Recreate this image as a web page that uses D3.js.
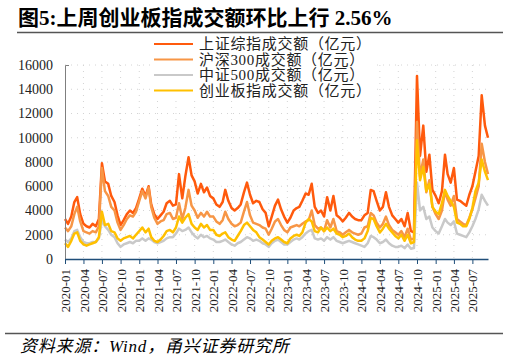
<!DOCTYPE html>
<html>
<head>
<meta charset="utf-8">
<script src="https://cdn.jsdelivr.net/npm/d3@7"></script>
<style>
  body { margin: 0; background: #fff; }
  svg { display: block; font-family: "Liberation Serif", "Noto Sans CJK SC", serif; }
</style>
</head>
<body>
<div id="chart"></div>
<script>
// Two readings per month (1st and 16th), starting 2020-01
const startMonth = "2020-01";

const seriesNames = ["上证综指成交额（亿元）", "沪深300成交额（亿元）", "中证500成交额（亿元）", "创业板指成交额（亿元）"];

const sse = [
  3300, 2900, 3500, 4700, 5100, 3700, 2900, 2700, 2600, 2900, 2700, 3300, 7900, 6400, 6200, 5200, 4700, 3600, 2800, 3200, 3700, 4000, 3800, 4200,
  5000, 5800, 5200, 6000, 4500, 3700, 3300, 3600, 3900, 4600, 4800, 4400, 4500, 7000, 5000, 6800, 8400, 6900, 6400, 5400, 6200, 5500, 5900, 5200,
  5000, 4500, 4300, 4700, 5700, 4800, 4200, 4000, 4200, 4500, 5500, 6300, 5300, 4600, 4800, 4700, 4100, 3800, 2700, 3500, 4400, 4900, 4100, 3500,
  3000, 3400, 4000, 4200, 4300, 4800, 5400, 5300, 6200, 4300, 3800, 4000, 3500, 5100, 4000, 5200, 3600, 3400, 3100, 3400, 3800, 3500, 3300, 3200,
  3200, 3600, 3800, 5700, 5600, 4800, 4000, 4300, 5500, 4300, 3600, 3300, 3000, 3300, 2700, 3800, 2300, 2200, 15100, 8500, 11000, 7200, 8600, 5700,
  5200, 4600, 5600, 8600, 7000, 6300, 7500, 4900, 4800, 4600, 4400, 5300, 6000, 7200, 8500, 13500, 11000, 10000
];

const csi300 = [
  2600, 2300, 2700, 3700, 4300, 3100, 2300, 2200, 2100, 2300, 2200, 2700, 7500, 5600, 5200, 4300, 4000, 3000, 2400, 2800, 3300, 3600, 3500, 3900,
  4800, 5600, 5000, 5900, 4300, 3400, 2900, 3100, 3200, 3700, 3800, 3300, 3400, 4600, 3300, 4200, 5700, 4400, 4000, 3400, 3800, 3500, 3900, 3500,
  3500, 3100, 2900, 3200, 3900, 3300, 2900, 2700, 2800, 3000, 3900, 4700, 3600, 3000, 2900, 2800, 2600, 2500, 2000, 2500, 3100, 3300, 2800, 2400,
  2200, 2600, 2700, 2800, 2700, 2900, 3100, 3200, 4000, 2800, 2500, 2600, 2300, 3200, 2600, 3300, 2300, 2200, 2000, 2200, 2400, 2200, 2100, 2000,
  2100, 2600, 2700, 3800, 3600, 3000, 2600, 2900, 3500, 2800, 2400, 2200, 2000, 2300, 1800, 2500, 1600, 1700, 11300, 6800, 8200, 5500, 6500, 4300,
  3700, 3300, 4000, 5600, 4900, 4400, 5200, 3300, 3100, 2900, 2800, 3400, 4100, 5000, 6000, 9500, 8000, 7000
];

const csi500 = [
  1600, 1400, 1700, 2300, 2400, 1800, 1400, 1300, 1300, 1400, 1400, 1700, 3200, 2700, 2400, 2000, 1800, 1300, 1000, 1200, 1300, 1400, 1300, 1500,
  1500, 1700, 1500, 1700, 1600, 1400, 1300, 1400, 1500, 1700, 1800, 1800, 2100, 2500, 2300, 2400, 2600, 2200, 1900, 1700, 2000, 1800, 1900, 1700,
  1600, 1400, 1400, 1500, 1600, 1400, 1200, 1100, 1300, 1400, 1600, 1800, 1700, 1500, 1600, 1500, 1300, 1200, 1000, 1300, 1500, 1600, 1400, 1200,
  1200, 1400, 1600, 1700, 1600, 1800, 2100, 2300, 2400, 1700, 1600, 1700, 1500, 1800, 1600, 1800, 1500, 1400, 1300, 1400, 1500, 1400, 1300, 1200,
  1100, 1000, 1300, 1900, 1800, 1600, 1300, 1400, 1600, 1300, 1100, 1000, 1000, 1100, 900, 1200, 850, 900, 6300, 4000, 4300, 3300, 3500, 2600,
  2300, 2100, 2700, 3300, 3000, 2800, 3100, 2100, 2000, 1900, 1800, 2200, 2700, 3300, 4100, 5300, 4800, 4400
];

const chinext = [
  1300, 1000, 1500, 2100, 2200, 1500, 1200, 1100, 1200, 1300, 1400, 1800, 3900, 2800, 2900, 2300, 2200, 1700, 1500, 1700, 1800, 1900, 1700, 2000,
  2300, 2600, 2200, 2500, 1800, 1500, 1400, 1600, 1900, 2300, 2400, 2200, 2600, 3500, 3000, 3400, 3700, 2900, 2600, 2400, 2900, 2600, 2800, 2400,
  2400, 2000, 1900, 2100, 2200, 1800, 1600, 1500, 1900, 2300, 2800, 3000, 2700, 2400, 2200, 1800, 1600, 1400, 1200, 1500, 1700, 1800, 1600, 1400,
  1300, 1700, 1900, 2000, 1900, 2200, 3000, 3300, 3100, 2300, 2200, 2600, 2300, 2600, 2300, 2500, 2100, 2000, 1800, 1900, 2100, 1800, 1600, 1500,
  1500, 1700, 2300, 3400, 3300, 2700, 2200, 2500, 2900, 2500, 2200, 1900, 1700, 2000, 1500, 2000, 1300, 1400, 9800, 6500, 7600, 5600, 6200, 4300,
  3900, 3700, 4600, 5700, 5200, 4800, 4300, 3000, 2900, 2700, 2700, 3300, 4200, 5600, 6300, 8200, 7200, 6500
];

const yTicks = [0, 2000, 4000, 6000, 8000, 10000, 12000, 14000, 16000];
const xTickLabels = [
  "2020-01", "2020-04", "2020-07", "2020-10", "2021-01", "2021-04", "2021-07", "2021-10",
  "2022-01", "2022-04", "2022-07", "2022-10", "2023-01", "2023-04", "2023-07", "2023-10",
  "2024-01", "2024-04", "2024-07", "2024-10", "2025-01", "2025-04", "2025-07"
];

const drawChart = () => {
  const width = 509;
  const height = 361;
  const plot = {left: 65, right: 488, top: 65, bottom: 259};
  const colors = ["#FF5A0D", "#F79646", "#C9C9C9", "#FFC000"];
  const series = [sse, csi300, csi500, chinext];

  const parseMonth = d3.timeParse("%Y-%m");
  const start = parseMonth(startMonth);
  const dates = sse.map((d, i) => {
    const m = d3.timeMonth.offset(start, Math.floor(i / 2));
    return i % 2 === 0 ? m : d3.timeDay.offset(m, 15);
  });

  const svg = d3.select("#chart")
    .append("svg")
      .attr("width", width)
      .attr("height", height);

  // Title and rules
  svg.append("text")
      .text("图5:上周创业板指成交额环比上行 2.56%")
      .attr("x", 18)
      .attr("y", 25)
      .attr("font-size", 21)
      .attr("font-weight", "bold")
      .attr("fill", "#000");
  svg.append("line")
      .attr("x1", 17).attr("x2", 503)
      .attr("y1", 32.5).attr("y2", 32.5)
      .attr("stroke", "#555").attr("stroke-width", 1.5);
  svg.append("line")
      .attr("x1", 5).attr("x2", 503)
      .attr("y1", 333.5).attr("y2", 333.5)
      .attr("stroke", "#555").attr("stroke-width", 1.5);
  svg.append("text")
      .text("资料来源：Wind，甬兴证券研究所")
      .attr("x", 20)
      .attr("y", 352)
      .attr("font-size", 17)
      .attr("letter-spacing", 0.8)
      .attr("font-style", "italic")
      .attr("fill", "#000");

  // Scales
  const xScale = d3.scaleTime()
    .domain([start, dates[dates.length - 1]])
    .range([plot.left, plot.right]);
  const yScale = d3.scaleLinear()
    .domain([0, 16000])
    .range([plot.bottom, plot.top]);

  const xTickDates = xTickLabels.map(parseMonth);

  // Dotted grid
  svg.append("g")
    .selectAll("line")
    .data(yTicks.slice(1))
    .join("line")
      .attr("x1", plot.left).attr("x2", plot.right)
      .attr("y1", d => yScale(d)).attr("y2", d => yScale(d))
      .attr("stroke", "#d4d4d4")
      .attr("stroke-dasharray", "1,5");
  svg.append("g")
    .selectAll("line")
    .data(xTickDates.slice(1))
    .join("line")
      .attr("x1", d => xScale(d)).attr("x2", d => xScale(d))
      .attr("y1", plot.top).attr("y2", plot.bottom)
      .attr("stroke", "#d4d4d4")
      .attr("stroke-dasharray", "1,5");

  // Lines
  const lineGenerator = d3.line()
    .x((d, i) => xScale(dates[i]))
    .y(d => yScale(d));
  series.forEach((values, k) => {
    svg.append("path")
        .attr("d", lineGenerator(values))
        .attr("fill", "none")
        .attr("stroke", colors[k])
        .attr("stroke-width", 2.5)
        .attr("stroke-linejoin", "round");
  });

  // Y axis
  const leftAxis = d3.axisLeft(yScale)
    .tickValues(yTicks)
    .tickFormat(d3.format("d"))
    .tickSize(0)
    .tickSizeOuter(-4)
    .tickPadding(12);
  const yAxis = svg.append("g")
      .attr("transform", `translate(${plot.left}, 0)`)
      .call(leftAxis);
  yAxis.select(".domain").attr("stroke", "#7f7f7f");
  yAxis.selectAll("text")
      .attr("font-size", 14)
      .attr("font-family", "Liberation Serif")
      .attr("fill", "#222");

  // X axis
  const bottomAxis = d3.axisBottom(xScale)
    .tickValues(xTickDates)
    .tickFormat((d, i) => xTickLabels[i])
    .tickSize(5)
    .tickSizeOuter(0);
  const xAxis = svg.append("g")
      .attr("transform", `translate(0, ${plot.bottom})`)
      .call(bottomAxis);
  xAxis.select(".domain").attr("stroke", "#1F4E79").attr("stroke-width", 1.5);
  xAxis.selectAll(".tick line").attr("stroke", "#1F4E79");
  xAxis.selectAll("text")
      .attr("font-size", 13)
      .attr("font-family", "Liberation Serif")
      .attr("fill", "#222")
      .attr("transform", "rotate(-90)")
      .attr("text-anchor", "end")
      .attr("x", -10)
      .attr("y", 0)
      .attr("dy", "0.35em");

  // Legend
  const legend = svg.append("g");
  legend.append("rect")
      .attr("x", 150).attr("y", 36)
      .attr("width", 222).attr("height", 62)
      .attr("fill", "#fff");
  const rows = legend.selectAll("g")
    .data(seriesNames)
    .join("g")
      .attr("transform", (d, i) => `translate(154, ${44 + i * 15.5})`);
  rows.append("line")
      .attr("x1", 0).attr("x2", 39)
      .attr("stroke", (d, i) => colors[i])
      .attr("stroke-width", 2);
  rows.append("text")
      .text(d => d)
      .attr("x", 45)
      .attr("dy", "0.35em")
      .attr("font-size", 15)
      .attr("letter-spacing", 0.7)
      .attr("fill", "#222");
};

drawChart();
</script>
</body>
</html>
